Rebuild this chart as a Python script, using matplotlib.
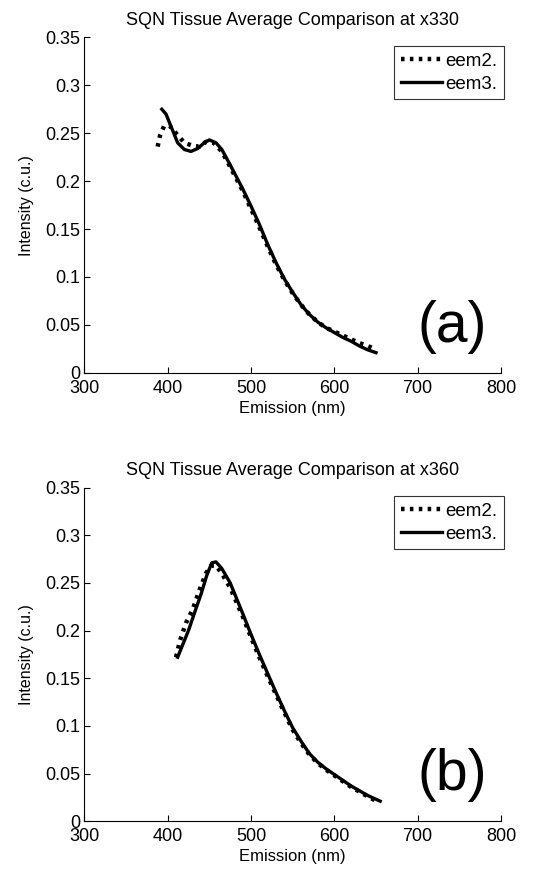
import matplotlib.pyplot as plt

plt.rcParams["font.family"] = ["Liberation Sans", "DejaVu Sans"]

# panel (a): excitation 330 nm
wl_a2 = [388, 391, 396, 402, 410, 420, 430, 438, 446, 455, 465, 475, 490, 500, 510, 520, 530, 540, 550, 560,
         570, 580, 590, 600, 610, 620, 630, 640, 648]
eem2_a = [0.236, 0.248, 0.258, 0.258, 0.250, 0.240, 0.237, 0.236, 0.241, 0.240, 0.231, 0.215, 0.190, 0.171, 0.152,
          0.132, 0.113, 0.097, 0.083, 0.071, 0.061, 0.053, 0.047, 0.043, 0.039, 0.035, 0.031, 0.028, 0.025]
wl_a3 = [393, 398, 405, 412, 420, 428, 436, 444, 450, 458, 465, 475, 490, 500, 510, 520, 530, 540, 550, 560,
         570, 580, 590, 600, 610, 620, 630, 640, 650]
eem3_a = [0.275, 0.270, 0.255, 0.240, 0.233, 0.231, 0.234, 0.240, 0.243, 0.240, 0.233, 0.217, 0.192, 0.174, 0.155,
          0.134, 0.115, 0.098, 0.084, 0.071, 0.061, 0.053, 0.047, 0.042, 0.037, 0.033, 0.028, 0.024, 0.021]

# panel (b): excitation 360 nm
wl_b2 = [410, 415, 422, 430, 438, 446, 452, 458, 465, 475, 490, 500, 510, 520, 530, 540, 550, 560, 570, 580,
         590, 600, 610, 620, 630, 640, 653]
eem2_b = [0.172, 0.190, 0.208, 0.222, 0.242, 0.260, 0.268, 0.268, 0.260, 0.245, 0.215, 0.193, 0.172, 0.152, 0.133,
          0.114, 0.096, 0.082, 0.070, 0.061, 0.054, 0.048, 0.042, 0.036, 0.031, 0.026, 0.020]
wl_b3 = [412, 418, 425, 432, 440, 447, 453, 458, 465, 475, 490, 500, 510, 520, 530, 540, 550, 560, 570, 580,
         590, 600, 610, 620, 630, 640, 655]
eem3_b = [0.172, 0.185, 0.200, 0.218, 0.238, 0.258, 0.271, 0.272, 0.265, 0.250, 0.218, 0.196, 0.175, 0.155, 0.135,
          0.116, 0.098, 0.084, 0.071, 0.062, 0.055, 0.049, 0.043, 0.037, 0.032, 0.027, 0.021]

titles = ["SQN Tissue Average Comparison at x330", "SQN Tissue Average Comparison at x360"]
tags = ["(a)", "(b)"]
x_ticks = [300, 400, 500, 600, 700, 800]
y_ticks = [0, 0.05, 0.1, 0.15, 0.2, 0.25, 0.3, 0.35]
y_tick_labels = ["0", "0.05", "0.1", "0.15", "0.2", "0.25", "0.3", "0.35"]

fig = plt.figure(figsize=(5.37, 8.69), dpi=100)
ax_a = fig.add_axes([0.157, 0.571, 0.776, 0.386])
ax_b = fig.add_axes([0.157, 0.055, 0.776, 0.384])

panels = [
    (ax_a, wl_a2, eem2_a, wl_a3, eem3_a),
    (ax_b, wl_b2, eem2_b, wl_b3, eem3_b),
]

for i, (ax, x2, y2, x3, y3) in enumerate(panels):
    ax.plot(x2, y2, color="black", lw=3.2, ls=(0, (0.8, 1.2)), label="eem2.")
    ax.plot(x3, y3, color="black", lw=2.4, ls="-", label="eem3.")
    ax.set_xlim(300, 800)
    ax.set_ylim(0, 0.35)
    ax.set_xticks(x_ticks)
    ax.set_yticks(y_ticks)
    ax.set_yticklabels(y_tick_labels)
    ax.tick_params(direction="in", length=4, width=0.8, labelsize=13, pad=3)
    ax.tick_params(axis="x", pad=5)
    ax.spines["top"].set_visible(False)
    ax.spines["right"].set_visible(False)
    ax.set_title(titles[i], fontsize=13, pad=9)
    ax.set_xlabel("Emission (nm)", fontsize=12, labelpad=3)
    ax.set_ylabel("Intensity (c.u.)", fontsize=11.5, labelpad=8)
    ax.text(742, 0.048, tags[i], fontsize=41, ha="center", va="center")
    leg = ax.legend(loc="upper right", bbox_to_anchor=(1.015, 0.985), fontsize=13.5,
                    frameon=True, fancybox=False, handlelength=2.2, handletextpad=0.15,
                    borderpad=0.35, labelspacing=0.3, borderaxespad=0.2)
    leg.get_frame().set_edgecolor("black")
    leg.get_frame().set_linewidth(0.8)

fig.savefig("out.png", dpi=100)
